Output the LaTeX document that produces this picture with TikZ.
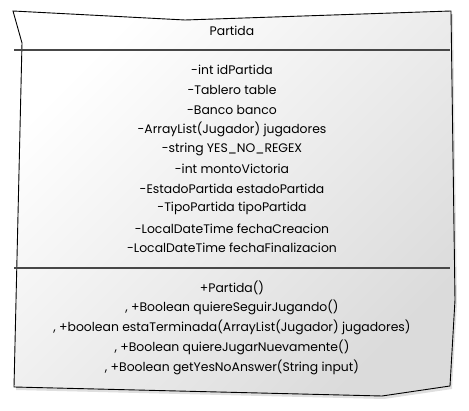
\documentclass[tikz,border=0pt]{standalone}
\usepackage{fontspec}
\setmainfont{Poppins}
\usetikzlibrary{positioning,shadows}
\tikzstyle{member} = [text centered, inner sep=0pt, text=black, font=\fontsize{12.4}{14}\selectfont]
\tikzstyle{sep} = [line width=1.1pt, draw=black!72]
\tikzstyle{frame} = [line width=0.9pt, draw=black, top color=white, bottom color=black!14, shading angle=45, drop shadow={shadow xshift=2pt, shadow yshift=-3pt, opacity=0.25}]
\def\rowgap{19.8pt}

\begin{document}
\begin{tikzpicture}[x=1pt, y=-1pt, node distance=\rowgap]
\useasboundingbox (0,0) rectangle (469,411);

% class box
\path [frame] (13,11) -- (185,20) -- (451,11) -- (455,300) -- (450,386) -- (382,396) -- (14,387) -- (22,43) -- cycle;
\draw [sep] (14,50) -- (450,50);
\draw [sep] (14,268) -- (450,268);

\node (title) [member] at (232,31) {Partida};

% attributes
\node (idPartida) [member] at (232,70) {-int idPartida};
\node (table) [member, below of=idPartida] {-Tablero table};
\node (banco) [member, below of=table] {-Banco banco};
\node (jugadores) [member, below of=banco] {-ArrayList(Jugador) jugadores};
\node (regex) [member, below of=jugadores] {-string YES\_NO\_REGEX};
\node (monto) [member, below of=regex] {-int montoVictoria};
\node (estado) [member, below of=monto] {-EstadoPartida estadoPartida};
\node (tipo) [member, below of=estado] {-TipoPartida tipoPartida};
\node (creacion) [member, below of=tipo] {-LocalDateTime fechaCreacion};
\node (finalizacion) [member, below of=creacion] {-LocalDateTime fechaFinalizacion};

% methods
\node (ctor) [member] at (232,288) {+Partida()};
\node (seguir) [member, below of=ctor] {, +Boolean quiereSeguirJugando()};
\node (terminada) [member, below of=seguir] {, +boolean estaTerminada(ArrayList(Jugador) jugadores)};
\node (nuevamente) [member, below of=terminada] {, +Boolean quiereJugarNuevamente()};
\node (answer) [member, below of=nuevamente] {, +Boolean getYesNoAnswer(String input)};

\end{tikzpicture}
\end{document}
